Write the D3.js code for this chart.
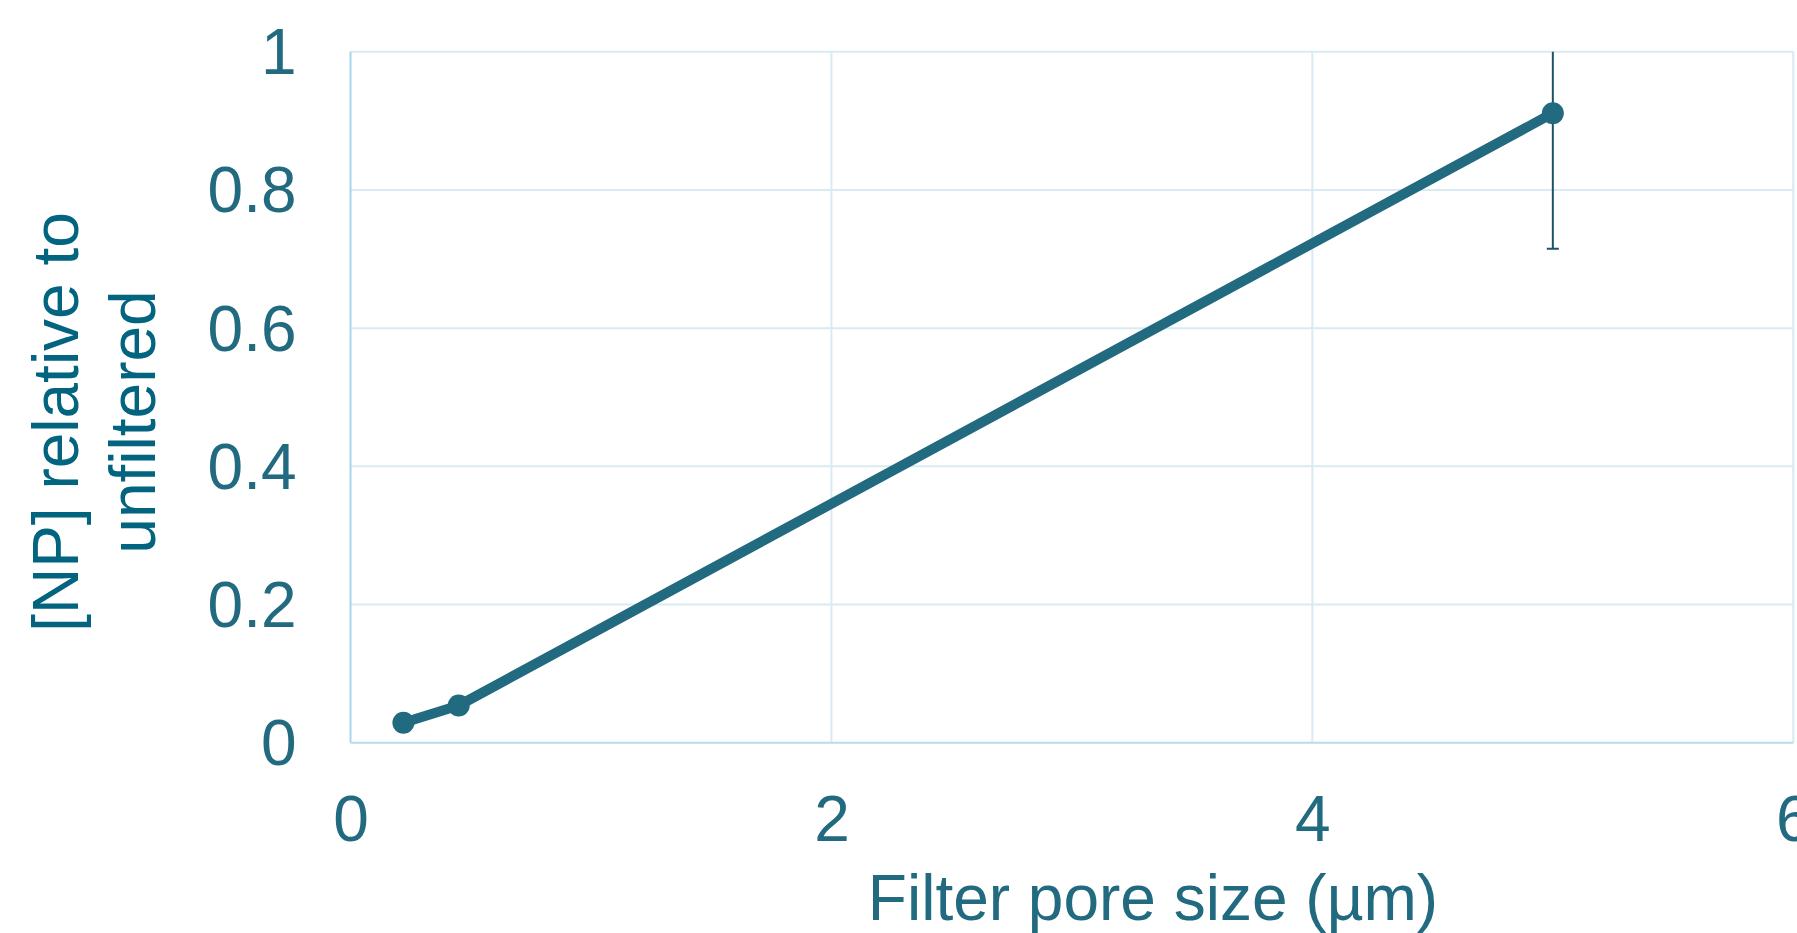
<!DOCTYPE html>
<html>
<head>
<meta charset="utf-8">
<script src="https://cdn.jsdelivr.net/npm/d3@7"></script>
<style>
  html, body { margin: 0; padding: 0; background: #fff; overflow: hidden; }
  svg { display: block; font-family: "Liberation Sans", Arial, sans-serif; }
</style>
</head>
<body>
<svg id="chart" width="1797" height="933"></svg>
<script>
// data
const poreSize = [0.22, 0.45, 5];        // µm
const relConc = [0.029, 0.054, 0.911];   // [NP] relative to unfiltered
const errBar = [0, 0, 0.196];
const xTicks = [0, 2, 4, 6];
const yTicks = [0, 0.2, 0.4, 0.6, 0.8, 1];

const textCol = '#216a80';
const lineCol = '#216a7f';

var svg = d3.select('#chart');

// plot area
const plotL = 350.5, plotR = 1793.3, plotT = 51.7, plotB = 742.8;

var x = d3.scaleLinear().domain([0, 6]).range([plotL, plotR]);
var y = d3.scaleLinear().domain([0, 1]).range([plotB, plotT]);

// gridlines
svg.append('g')
  .selectAll('line')
  .data(yTicks.slice(1))
  .enter().append('line')
  .attr('x1', plotL).attr('x2', plotR)
  .attr('y1', (d) => y(d)).attr('y2', (d) => y(d))
  .attr('stroke', '#d8eaf2')
  .attr('stroke-width', 2);

svg.append('g')
  .selectAll('line')
  .data(xTicks.slice(1))
  .enter().append('line')
  .attr('x1', (d) => x(d)).attr('x2', (d) => x(d))
  .attr('y1', plotT).attr('y2', plotB)
  .attr('stroke', '#d8eaf2')
  .attr('stroke-width', 2);

// axes (tick labels only, lines drawn below)
var xAxis = svg.append('g')
  .attr('transform', 'translate(0,' + plotB + ')')
  .call(d3.axisBottom(x).tickValues(xTicks).tickSize(0).tickPadding(0).tickFormat(d3.format('d')));
xAxis.select('.domain').remove();
xAxis.selectAll('text')
  .attr('y', 98)
  .attr('dy', 0)
  .attr('fill', textCol)
  .attr('font-size', 64)
  .attr('font-family', '"Liberation Sans", Arial, sans-serif');

var yAxis = svg.append('g')
  .attr('transform', 'translate(' + plotL + ',0)')
  .call(d3.axisLeft(y).tickValues(yTicks).tickSize(0).tickPadding(0).tickFormat((d) => String(+d.toFixed(1))));
yAxis.select('.domain').remove();
yAxis.selectAll('text')
  .attr('x', -54)
  .attr('dy', 22)
  .attr('fill', textCol)
  .attr('font-size', 64)
  .attr('font-family', '"Liberation Sans", Arial, sans-serif');

// axis lines
svg.append('line')
  .attr('x1', plotL).attr('x2', plotL).attr('y1', plotT).attr('y2', plotB)
  .attr('stroke', '#a8d6ea').attr('stroke-width', 2);
svg.append('line')
  .attr('x1', plotL).attr('x2', plotR).attr('y1', plotB).attr('y2', plotB)
  .attr('stroke', '#b8dcec').attr('stroke-width', 2);

var data = poreSize.map((d, i) => ({x: d, y: relConc[i], e: errBar[i]}));

// error bars, clipped to the plot area
svg.append('clipPath').attr('id', 'plotclip')
  .append('rect')
  .attr('x', plotL).attr('y', plotT)
  .attr('width', plotR - plotL).attr('height', plotB - plotT);

var eb = svg.append('g').attr('clip-path', 'url(#plotclip)')
  .selectAll('g')
  .data(data.filter((d) => d.e > 0))
  .enter().append('g');

eb.append('line')
  .attr('x1', (d) => x(d.x)).attr('x2', (d) => x(d.x))
  .attr('y1', (d) => y(d.y + d.e)).attr('y2', (d) => y(d.y - d.e))
  .attr('stroke', '#1b5466').attr('stroke-width', 2);
eb.append('line')
  .attr('x1', (d) => x(d.x) - 6).attr('x2', (d) => x(d.x) + 6)
  .attr('y1', (d) => y(d.y - d.e)).attr('y2', (d) => y(d.y - d.e))
  .attr('stroke', '#1b5466').attr('stroke-width', 2);

// line
var line = d3.line().x((d) => x(d.x)).y((d) => y(d.y));
svg.append('path')
  .datum(data)
  .attr('d', line)
  .attr('fill', 'none')
  .attr('stroke', lineCol)
  .attr('stroke-width', 10)
  .attr('stroke-linejoin', 'round');

// markers
svg.append('g')
  .selectAll('circle')
  .data(data)
  .enter().append('circle')
  .attr('cx', (d) => x(d.x))
  .attr('cy', (d) => y(d.y))
  .attr('r', 11)
  .attr('fill', lineCol);

// axis titles
svg.append('text')
  .attr('x', 1153)
  .attr('y', 920)
  .attr('text-anchor', 'middle')
  .attr('fill', textCol)
  .attr('font-size', 64)
  .text('Filter pore size (µm)');

var yt = svg.append('text')
  .attr('transform', 'translate(0,422) rotate(-90)')
  .attr('text-anchor', 'middle')
  .attr('fill', '#02647f')
  .attr('font-size', 64);
yt.append('tspan').attr('x', 0).attr('y', 78).text('[NP] relative to');
yt.append('tspan').attr('x', 0).attr('y', 155).text('unfiltered');
</script>
</body>
</html>
